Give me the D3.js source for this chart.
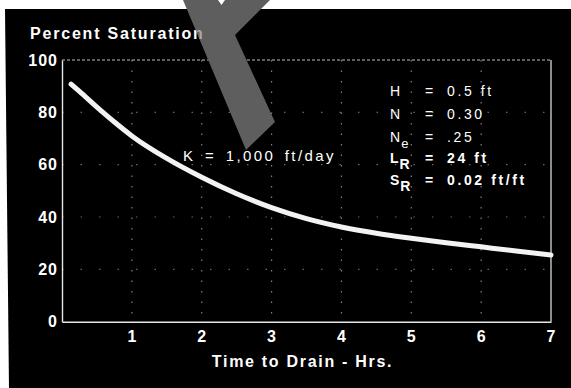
<!DOCTYPE html>
<html>
<head>
<meta charset="utf-8">
<script src="https://cdn.jsdelivr.net/npm/d3@7/dist/d3.min.js"></script>
<style>
  html, body { margin: 0; padding: 0; background: #fff; }
  svg { display: block; }
  text { font-family: "Liberation Sans", Arial, Helvetica, sans-serif; fill: #fff; }
</style>
</head>
<body>
<svg id="chart" width="571" height="388"></svg>
<script>
// Drainage curve: percent saturation vs. time to drain (hours)
const timeHrs = [0.13, 0.25, 0.5, 0.75, 1, 1.5, 2, 2.5, 3, 3.5, 4, 4.5, 5, 5.5, 6, 6.5, 7];
const saturationPct = [90.8, 88.0, 82.0, 76.3, 71.0, 62.4, 55.2, 48.9, 43.6, 39.4, 36.2, 33.8, 31.9, 30.2, 28.6, 27.0, 25.5];

const xTicks = [1, 2, 3, 4, 5, 6, 7];
const yTicks = [0, 20, 40, 60, 80, 100];

const titleY = "Percent Saturation";
const titleX = "Time to Drain - Hrs.";
const curveLabel = "K = 1,000 ft/day";

// Parameter block: symbol, subscript, value
const paramSymbols = ["H", "N", "N", "L", "S"];
const paramSubs = ["", "", "e", "R", "R"];
const paramValues = ["0.5 ft", "0.30", ".25", "24 ft", "0.02 ft/ft"];

const W = 571, H = 388;
const svg = d3.select("#chart");

// dark plate with a thin light margin on the top and left
svg.append("path")
  .attr("d", `M5,9 L${W},9 L${W},${H} L9,${H} Z`)
  .attr("fill", "#000");

const x = d3.scaleLinear().domain([0, 7]).range([62, 551]);
const y = d3.scaleLinear().domain([0, 100]).range([321.7, 60]);

// dotted grid
const grid = svg.append("g").attr("stroke", "#fff").attr("fill", "none");
grid.selectAll("line.v").data(xTicks.slice(0, -1)).join("line")
  .attr("class", "v")
  .attr("x1", d => x(d)).attr("x2", d => x(d))
  .attr("y1", y(100)).attr("y2", y(0))
  .attr("stroke-width", 1.2)
  .attr("stroke-dasharray", "1.5,9")
  .attr("opacity", 0.5);
grid.selectAll("line.h").data(yTicks.slice(1, -1)).join("line")
  .attr("class", "h")
  .attr("x1", x(0)).attr("x2", x(7))
  .attr("y1", d => y(d)).attr("y2", d => y(d))
  .attr("stroke-width", 1.2)
  .attr("stroke-dasharray", "1.5,17")
  .attr("opacity", 0.4);

// frame: dotted top, solid right
svg.append("line")
  .attr("x1", x(0)).attr("x2", x(7)).attr("y1", y(100)).attr("y2", y(100))
  .attr("stroke", "#fff").attr("stroke-width", 1.2).attr("stroke-dasharray", "3,2").attr("opacity", 0.75);
svg.append("line")
  .attr("x1", x(7)).attr("x2", x(7)).attr("y1", y(100)).attr("y2", y(0))
  .attr("stroke", "#fff").attr("stroke-width", 1.3).attr("opacity", 0.85);

// axes
const yAxis = svg.append("g")
  .attr("transform", `translate(${x(0)},0)`)
  .call(d3.axisLeft(y).tickValues(yTicks).tickSize(0).tickPadding(4).tickFormat(d3.format("d")));
const xAxis = svg.append("g")
  .attr("transform", `translate(0,${y(0)})`)
  .call(d3.axisBottom(x).tickValues(xTicks).tickSize(0).tickPadding(9).tickFormat(d3.format("d")));

[yAxis, xAxis].forEach(g => {
  g.select(".domain").attr("stroke", "#fff").attr("stroke-width", 1.4).attr("opacity", 0.9);
  g.selectAll("text")
    .attr("fill", "#fff")
    .style("font-family", "'Liberation Sans', Arial, sans-serif")
    .style("font-size", "16px")
    .style("font-weight", "bold")
    .style("letter-spacing", "1px");
});

// saturation curve
const line = d3.line()
  .x((d, i) => x(timeHrs[i]))
  .y(d => y(d))
  .curve(d3.curveMonotoneX);
svg.append("path")
  .datum(saturationPct)
  .attr("d", line)
  .attr("fill", "none")
  .attr("stroke", "#f3f3f3")
  .attr("stroke-width", 5)
  .attr("stroke-linecap", "round");

// titles
svg.append("text")
  .attr("x", 30).attr("y", 38.5)
  .style("font-size", "16px").style("font-weight", "bold").style("letter-spacing", "1.8px")
  .text(titleY);

svg.append("text")
  .attr("x", (x(0) + x(7)) / 2 - 4).attr("y", 366.5)
  .attr("text-anchor", "middle")
  .style("font-size", "16px").style("font-weight", "bold").style("letter-spacing", "1.7px")
  .text(titleX);

// curve label
svg.append("text")
  .attr("x", 183).attr("y", 160.5)
  .style("font-size", "15px").style("letter-spacing", "2.4px")
  .style("word-spacing", "3px")
  .text(curveLabel);

// parameter block
const rowY = [96, 119, 141.5, 162.5, 185];
const params = svg.append("g");
paramSymbols.forEach((s, i) => {
  const bold = i >= 3;
  const t = params.append("text")
    .attr("x", 390).attr("y", rowY[i])
    .style("font-size", "14px")
    .style("font-weight", bold ? "bold" : "normal");
  t.append("tspan").text(s);
  if (paramSubs[i]) {
    t.append("tspan")
      .attr("dx", 1).attr("dy", 6)
      .style("font-size", bold ? "14px" : "13px")
      .text(paramSubs[i]);
  }
  params.append("text")
    .attr("x", 425).attr("y", rowY[i])
    .style("font-size", "14px").style("font-weight", bold ? "bold" : "normal")
    .text("=");
  params.append("text")
    .attr("x", 447).attr("y", rowY[i])
    .style("font-size", "14px").style("font-weight", bold ? "bold" : "normal")
    .style("letter-spacing", "2.6px")
    .text(paramValues[i]);
});

// grey pointer stripe across the upper part of the chart
const stripe = [[183, 0], [218, 0], [221.5, 5], [225, 0], [270, 0], [235, 35], [275, 122], [246, 150]];
const defs = svg.append("defs");
defs.append("clipPath").attr("id", "stripeClip")
  .append("polygon").attr("points", stripe.map(p => p.join(",")).join(" "));
svg.append("polygon")
  .attr("points", stripe.map(p => p.join(",")).join(" "))
  .attr("fill", "#5e5e5e");
// title letters show faintly through the stripe
svg.append("text")
  .attr("x", 30).attr("y", 38.5)
  .attr("clip-path", "url(#stripeClip)")
  .style("font-size", "16px").style("font-weight", "bold").style("letter-spacing", "1.8px")
  .style("fill", "#a8a8a8")
  .text(titleY);
</script>
</body>
</html>
